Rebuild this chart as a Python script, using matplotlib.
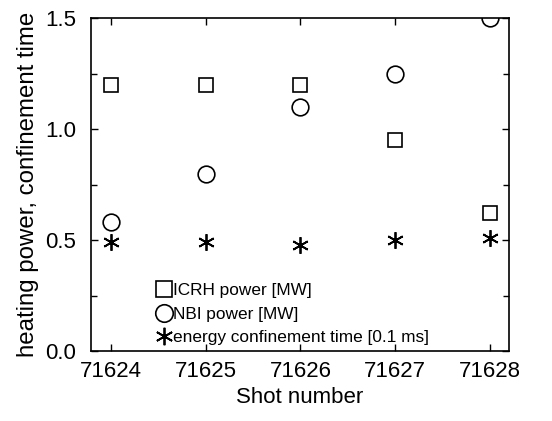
import matplotlib
matplotlib.use("Agg")
import matplotlib.pyplot as plt

plt.rcParams['font.family'] = ['Liberation Sans', 'DejaVu Sans']

shots = [71624, 71625, 71626, 71627, 71628]
icrh = [1.2, 1.2, 1.2, 0.95, 0.62]
nbi = [0.58, 0.8, 1.1, 1.25, 1.5]
tau_e = [0.49, 0.49, 0.48, 0.50, 0.51]

fig = plt.figure(figsize=(5.52, 4.21), dpi=100)
ax = fig.add_axes([0.165, 0.166, 0.757, 0.791])

ax.plot(shots, icrh, ls='none', marker='s', ms=10.5, mfc='white', mec='black', mew=1.2,
        label='ICRH power [MW]')
ax.plot(shots, nbi, ls='none', marker='o', ms=12, mfc='white', mec='black', mew=1.2,
        label='NBI power [MW]')
ax.plot(shots, tau_e, ls='none', marker=(6, 2, 0), ms=12, mec='black', mew=1.3,
        label='energy confinement time [0.1 ms]')

ax.set_xlim(71623.79, 71628.2)
ax.set_ylim(0, 1.5)
ax.set_xticks(shots)
ax.set_xticklabels([str(s) for s in shots])
ax.set_yticks([0, 0.5, 1.0, 1.5])
ax.set_yticks([0.25, 0.75, 1.25], minor=True)
ax.tick_params(axis='both', which='both', direction='in', top=True, right=True,
               labelsize=16, width=1)
ax.tick_params(which='major', length=5)
ax.tick_params(which='minor', length=4)
ax.tick_params(axis='x', pad=7)
ax.tick_params(axis='y', pad=11)
for s in ax.spines.values():
    s.set_linewidth(1.2)

ax.set_xlabel('Shot number', fontsize=16, labelpad=4)
ax.set_ylabel('heating power, confinement time', fontsize=17.3, labelpad=4)

ax.legend(loc='lower left', bbox_to_anchor=(0.13, -0.018), frameon=False, fontsize=12.4,
          handlelength=0.8, handletextpad=0.1, labelspacing=0.48, borderaxespad=0.3,
          markerscale=1.05)

fig.savefig('out.png', dpi=100)
